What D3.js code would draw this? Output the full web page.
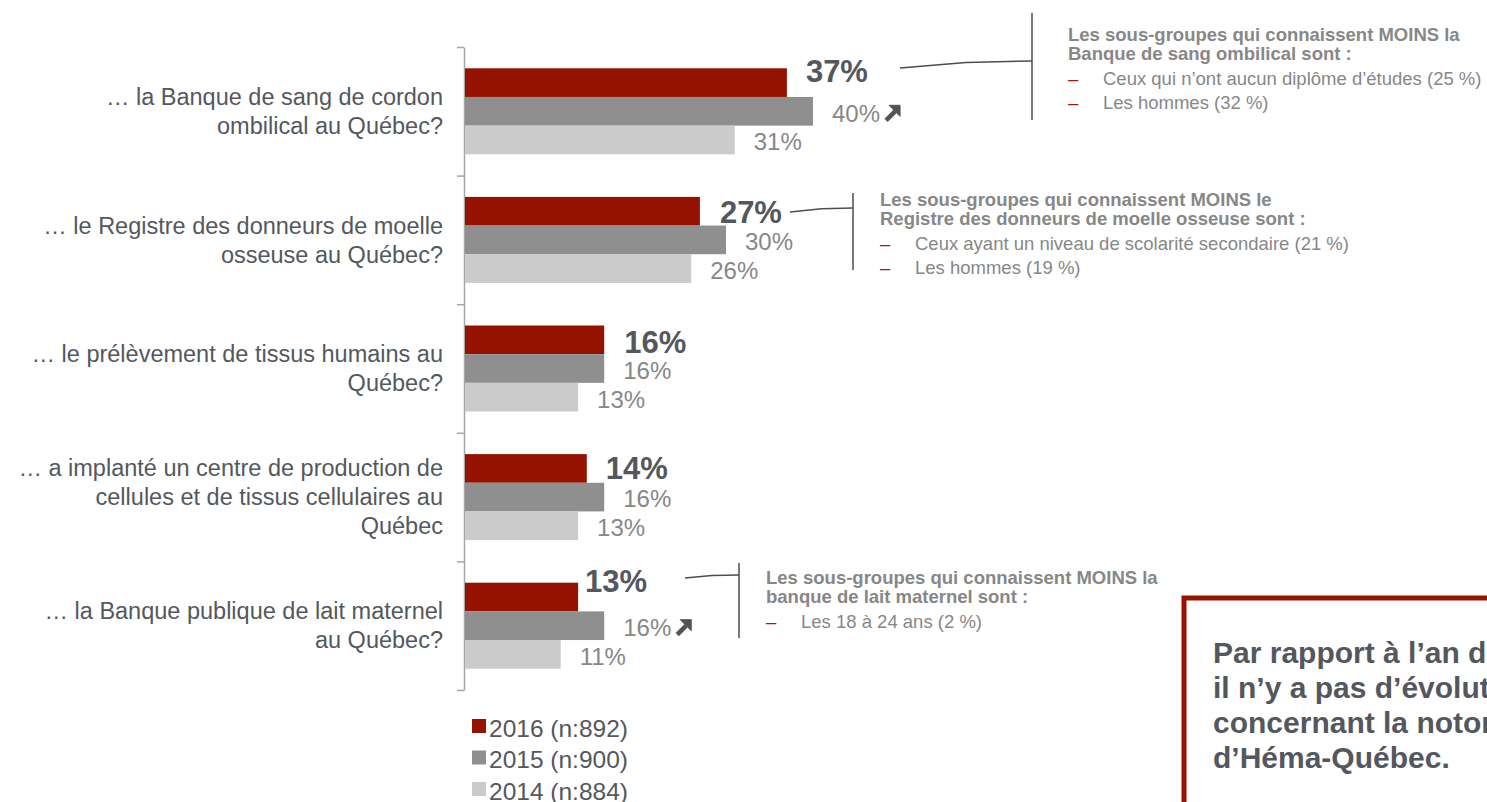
<!DOCTYPE html>
<html>
<head>
<meta charset="utf-8">
<script src="https://cdn.jsdelivr.net/npm/d3@7"></script>
<style>
  body { margin: 0; background: #fff; overflow: hidden; }
</style>
</head>
<body>
<div id="chart"></div>
<script>
// data
var categories = [
  ['… la Banque de sang de cordon', 'ombilical au Québec?'],
  ['… le Registre des donneurs de moelle', 'osseuse au Québec?'],
  ['… le prélèvement de tissus humains au', 'Québec?'],
  ['… a implanté un centre de production de', 'cellules et de tissus cellulaires au', 'Québec'],
  ['… la Banque publique de lait maternel', 'au Québec?']
];
var years = ['2016', '2015', '2014'];
var legendLabels = ['2016 (n:892)', '2015 (n:900)', '2014 (n:884)'];
var values2016 = [37, 27, 16, 14, 13];
var values2015 = [40, 30, 16, 16, 16];
var values2014 = [31, 26, 13, 13, 11];
var upArrow2015 = [true, false, false, false, true];

var callouts = [
  {cat: 0, title: ['Les sous-groupes qui connaissent MOINS la', 'Banque de sang ombilical sont :'],
   items: ['Ceux qui n’ont aucun diplôme d’études (25 %)', 'Les hommes (32 %)']},
  {cat: 1, title: ['Les sous-groupes qui connaissent MOINS le', 'Registre des donneurs de moelle osseuse sont :'],
   items: ['Ceux ayant un niveau de scolarité secondaire (21 %)', 'Les hommes (19 %)']},
  {cat: 4, title: ['Les sous-groupes qui connaissent MOINS la', 'banque de lait maternel sont :'],
   items: ['Les 18 à 24 ans (2 %)']}
];
var boxLines = ['Par rapport à l’an dernier,', 'il n’y a pas d’évolution significative', 'concernant la notoriété des services', 'd’Héma-Québec.'];

var colors = {'2016': '#961200', '2015': '#8f8f8f', '2014': '#cbcbcb'};
var textDark = '#54585e';
var textGray = '#878787';

var W = 1487, H = 802;
var svg = d3.select('#chart').append('svg')
  .attr('width', W).attr('height', H)
  .attr('font-family', "'Liberation Sans', Arial, Helvetica, sans-serif");

var rows = categories.map((c, i) => ({
  i: i, lines: c,
  vals: {'2016': values2016[i], '2015': values2015[i], '2014': values2014[i]}
}));

// scales
var x = d3.scaleLinear().domain([0, 40]).range([465, 813]);
var y = d3.scaleBand().domain(d3.range(categories.length)).range([47, 690]);
var ySub = d3.scaleBand().domain(years).range([0, 86]);
var bandOff = (y.bandwidth() - 86) / 2;

// axis with ticks on category boundaries
var yEdge = d3.scaleLinear().domain([0, categories.length]).range([47, 690]);
var axis = svg.append('g')
  .attr('transform', 'translate(464,0)')
  .call(d3.axisLeft(yEdge).tickValues(d3.range(categories.length + 1)).tickFormat('').tickSize(7).tickSizeOuter(0));
axis.selectAll('path, line').attr('stroke', '#a6a6a6').attr('stroke-width', 1.5);

// bars
var g = svg.selectAll('g.cat').data(rows).enter().append('g')
  .attr('class', 'cat')
  .attr('transform', d => 'translate(0,' + (y(d.i) + bandOff) + ')');

g.selectAll('rect').data(d => years.map(yr => ({yr: yr, v: d.vals[yr]})))
  .enter().append('rect')
  .attr('x', x(0))
  .attr('y', d => ySub(d.yr))
  .attr('width', d => x(d.v) - x(0))
  .attr('height', ySub.bandwidth())
  .attr('fill', d => colors[d.yr]);

// value labels
var bigDy = [-11, 1, 2, 0, -16];
var bigDx = [19, 20, 20, 19, 7];
g.append('text')
  .attr('x', d => x(d.vals['2016']) + bigDx[d.i])
  .attr('y', d => ySub('2016') + ySub.bandwidth() / 2 + bigDy[d.i])
  .attr('dy', '0.35em')
  .attr('font-size', 31).attr('font-weight', 'bold').attr('fill', textDark)
  .text(d => d.vals['2016'] + '%');

['2015', '2014'].forEach(function(yr) {
  g.append('text')
    .attr('class', 'lab' + yr)
    .attr('x', d => x(d.vals[yr]) + 19)
    .attr('y', d => ySub(yr) + ySub.bandwidth() / 2 + 2)
    .attr('dy', '0.35em')
    .attr('font-size', 24).attr('fill', textGray)
    .text(d => d.vals[yr] + '%');
});

// bold up arrows after the 2015 label where it rose
g.filter(d => upArrow2015[d.i]).each(function(d) {
  var lab = d3.select(this).select('text.lab2015').node();
  var ax = x(d.vals['2015']) + 19 + lab.getComputedTextLength() + 5;
  var ay = ySub('2015') + ySub.bandwidth() / 2 + 2;
  var a = d3.select(this).append('g')
    .attr('transform', 'translate(' + ax + ',' + ay + ')')
    .attr('fill', '#505358').attr('stroke', '#505358');
  a.append('line').attr('x1', 1).attr('y1', 7).attr('x2', 10).attr('y2', -2)
    .attr('stroke-width', 4.5);
  a.append('path').attr('d', 'M4,-8L15,-8L15,3Z').attr('stroke-width', 1).attr('stroke-linejoin', 'round');
});

// category labels
g.each(function(d) {
  var n = d.lines.length;
  var t = d3.select(this).append('text')
    .attr('text-anchor', 'end')
    .attr('font-size', 23.5).attr('fill', textDark);
  d.lines.forEach(function(l, k) {
    t.append('tspan').attr('x', 443)
      .attr('y', 43 + (k - (n - 1) / 2) * 29)
      .attr('dy', '0.35em')
      .text(l);
  });
});

// callouts
var calloutGeom = [
  {x0: 900, y0: 68, xb: 1032, yb: 61, top: 13, bot: 120, tx: 1068, ty: 35},
  {x0: 790, y0: 212, xb: 853, yb: 208, top: 193, bot: 270, tx: 880, ty: 200},
  {x0: 685, y0: 578, xb: 739, yb: 575, top: 563, bot: 638, tx: 766, ty: 578}
];
callouts.forEach(function(c, k) {
  var p = calloutGeom[k];
  var cg = svg.append('g');
  cg.append('path')
    .attr('d', 'M' + p.x0 + ',' + p.y0 + 'L' + ((p.x0 + p.xb) / 2) + ',' + (p.y0 - (p.y0 - p.yb) * 0.8) + 'L' + p.xb + ',' + p.yb)
    .attr('fill', 'none').attr('stroke', '#4a4d52').attr('stroke-width', 1.5);
  cg.append('line').attr('x1', p.xb).attr('x2', p.xb).attr('y1', p.top).attr('y2', p.bot)
    .attr('stroke', '#4a4d52').attr('stroke-width', 1.5);
  c.title.forEach(function(l, j) {
    cg.append('text').attr('x', p.tx).attr('y', p.ty + j * 18.5).attr('dy', '0.35em')
      .attr('font-size', 18.5).attr('font-weight', 'bold').attr('fill', textGray).text(l);
  });
  c.items.forEach(function(l, j) {
    var yy = p.ty + 2 * 18.5 + 7 + j * 23.5;
    cg.append('text').attr('x', p.tx).attr('y', yy).attr('dy', '0.35em')
      .attr('font-size', 18.5).attr('fill', '#a31a0a').text('–');
    cg.append('text').attr('x', p.tx + 35).attr('y', yy).attr('dy', '0.35em')
      .attr('font-size', 18.5).attr('fill', textGray).text(l);
  });
});

// legend
var leg = svg.append('g').attr('transform', 'translate(472,727)');
years.forEach(function(yr, k) {
  leg.append('rect').attr('x', 0).attr('y', k * 31.5 - 8).attr('width', 14).attr('height', 14)
    .attr('fill', colors[yr]);
  leg.append('text').attr('x', 17).attr('y', k * 31.5 + 1).attr('dy', '0.35em')
    .attr('font-size', 24.5).attr('fill', textDark).text(legendLabels[k]);
});

// summary box
svg.append('rect').attr('x', 1184).attr('y', 598).attr('width', 400).attr('height', 300)
  .attr('fill', '#fff').attr('stroke', '#951200').attr('stroke-width', 5);
boxLines.forEach(function(l, k) {
  svg.append('text').attr('x', 1213).attr('y', 652 + k * 35).attr('dy', '0.35em')
    .attr('font-size', 30).attr('font-weight', 'bold').attr('fill', textDark).text(l);
});
</script>
</body>
</html>
